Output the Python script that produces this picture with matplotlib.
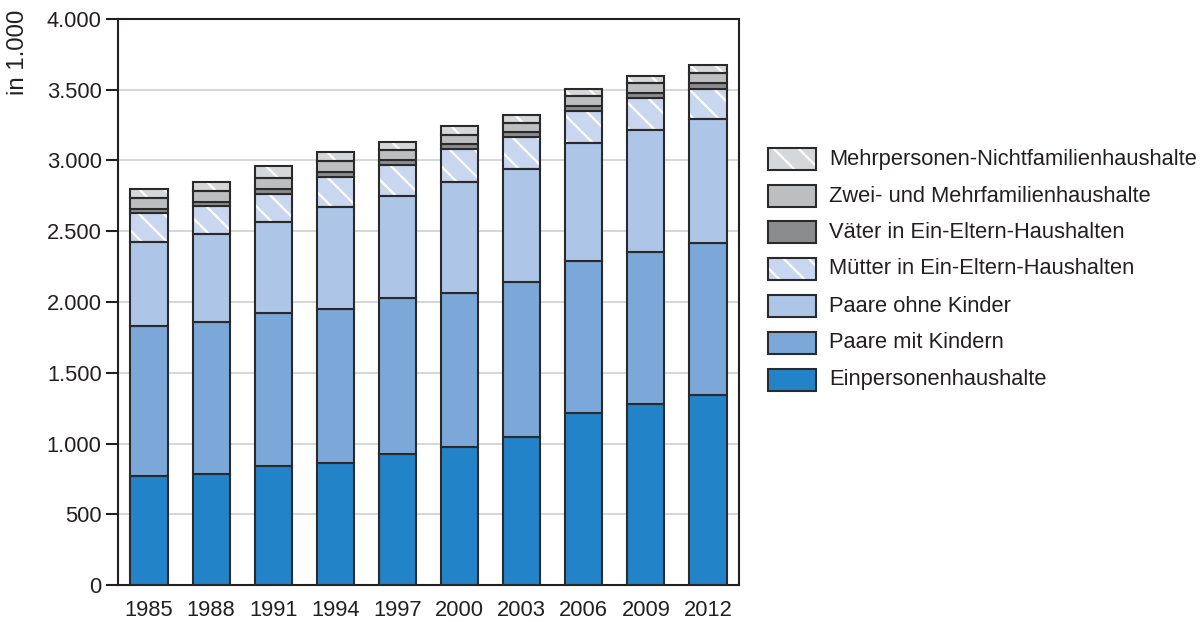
import matplotlib
matplotlib.use("Agg")
import matplotlib.pyplot as plt
from matplotlib.patches import Rectangle
import numpy as np

plt.rcParams['font.family'] = ['Liberation Sans', 'DejaVu Sans']
plt.rcParams['hatch.linewidth'] = 1.1

years = ["1985", "1988", "1991", "1994", "1997", "2000", "2003", "2006", "2009", "2012"]

einpersonen = [770, 784, 841, 862, 928, 973, 1048, 1218, 1279, 1341]
paare_mit = [1060, 1077, 1083, 1089, 1098, 1088, 1095, 1072, 1077, 1078]
paare_ohne = [596, 622, 644, 722, 725, 789, 797, 831, 857, 872]
muetter = [201, 195, 198, 213, 217, 233, 224, 226, 226, 216]
vaeter = [30, 29, 35, 33, 36, 36, 40, 40, 40, 39]
zwei_mehr = [76, 77, 78, 77, 70, 61, 63, 71, 67, 70]
nichtfamilien = [67, 64, 82, 64, 59, 62, 55, 47, 51, 61]

series_names = ["Einpersonenhaushalte", "Paare mit Kindern", "Paare ohne Kinder",
                "Mütter in Ein-Eltern-Haushalten", "Väter in Ein-Eltern-Haushalten",
                "Zwei- und Mehrfamilienhaushalte", "Mehrpersonen-Nichtfamilienhaushalte"]
series_values = [einpersonen, paare_mit, paare_ohne, muetter, vaeter, zwei_mehr, nichtfamilien]
colors = ["#2383c8", "#7ba7d9", "#adc6e8", "#c8d6f0", "#8b8c8e", "#bdbec0", "#d6d7d8"]
hatches = [None, None, None, "\\\\", None, None, "\\\\"]
edge = "#2a2a2a"

W, H, DPI = 1200, 622, 150
fig = plt.figure(figsize=(W / DPI, H / DPI), dpi=DPI)
ax = fig.add_axes([118 / W, 1 - 585 / H, (739 - 118) / W, (585 - 19) / H])

x = np.arange(len(years))
bottom = np.zeros(len(years))
for name, vals, c, h in zip(series_names, series_values, colors, hatches):
    vals = np.array(vals, dtype=float)
    if h:
        ax.bar(x, vals, width=0.6, bottom=bottom, color=c, hatch=h,
               edgecolor="white", linewidth=0, zorder=2)
        ax.bar(x, vals, width=0.6, bottom=bottom, fill=False,
               edgecolor=edge, linewidth=1.0, zorder=3)
    else:
        ax.bar(x, vals, width=0.6, bottom=bottom, color=c,
               edgecolor=edge, linewidth=1.0, zorder=3)
    bottom += vals

ax.set_xlim(-0.5, len(years) - 0.5)
ax.set_ylim(0, 4000)
ax.set_yticks(np.arange(0, 4001, 500))
ax.set_yticklabels([f"{v:,}".replace(",", ".") for v in range(0, 4001, 500)])
ax.set_xticks(x)
ax.set_xticklabels(years)
ax.tick_params(axis='x', length=0, pad=7, labelsize=10.5, colors="#231f20")
ax.tick_params(axis='y', length=5.8, width=1.0, pad=2, labelsize=10.5,
               colors="#231f20", direction='out')
ax.grid(axis='y', color="#cfcfcf", linewidth=0.8, zorder=0)
ax.set_axisbelow(True)
for s in ax.spines.values():
    s.set_color("#231f20")
    s.set_linewidth(1.0)

fig.text(18 / W, 1 - 10 / H, "in 1.000", rotation=90, va='top', ha='center',
         fontsize=11.5, color="#231f20")

# legend
row_centers = [159, 196, 232, 269, 306, 343, 380]
order = list(range(len(series_names)))[::-1]
for yc, i in zip(row_centers, order):
    x0, w, hgt = 768, 48, 22
    rect_kw = dict(transform=fig.transFigure, figure=fig)
    r = Rectangle((x0 / W, 1 - (yc + hgt / 2) / H), w / W, hgt / H,
                  facecolor=colors[i], hatch=hatches[i],
                  edgecolor="white" if hatches[i] else edge,
                  linewidth=0 if hatches[i] else 1.0, **rect_kw)
    fig.patches.append(r)
    if hatches[i]:
        r2 = Rectangle((x0 / W, 1 - (yc + hgt / 2) / H), w / W, hgt / H,
                       fill=False, edgecolor=edge, linewidth=1.0, **rect_kw)
        fig.patches.append(r2)
    fig.text(829 / W, 1 - yc / H, series_names[i], va='center', ha='left',
             fontsize=10.5, color="#231f20")

fig.savefig("out.png", dpi=DPI)
